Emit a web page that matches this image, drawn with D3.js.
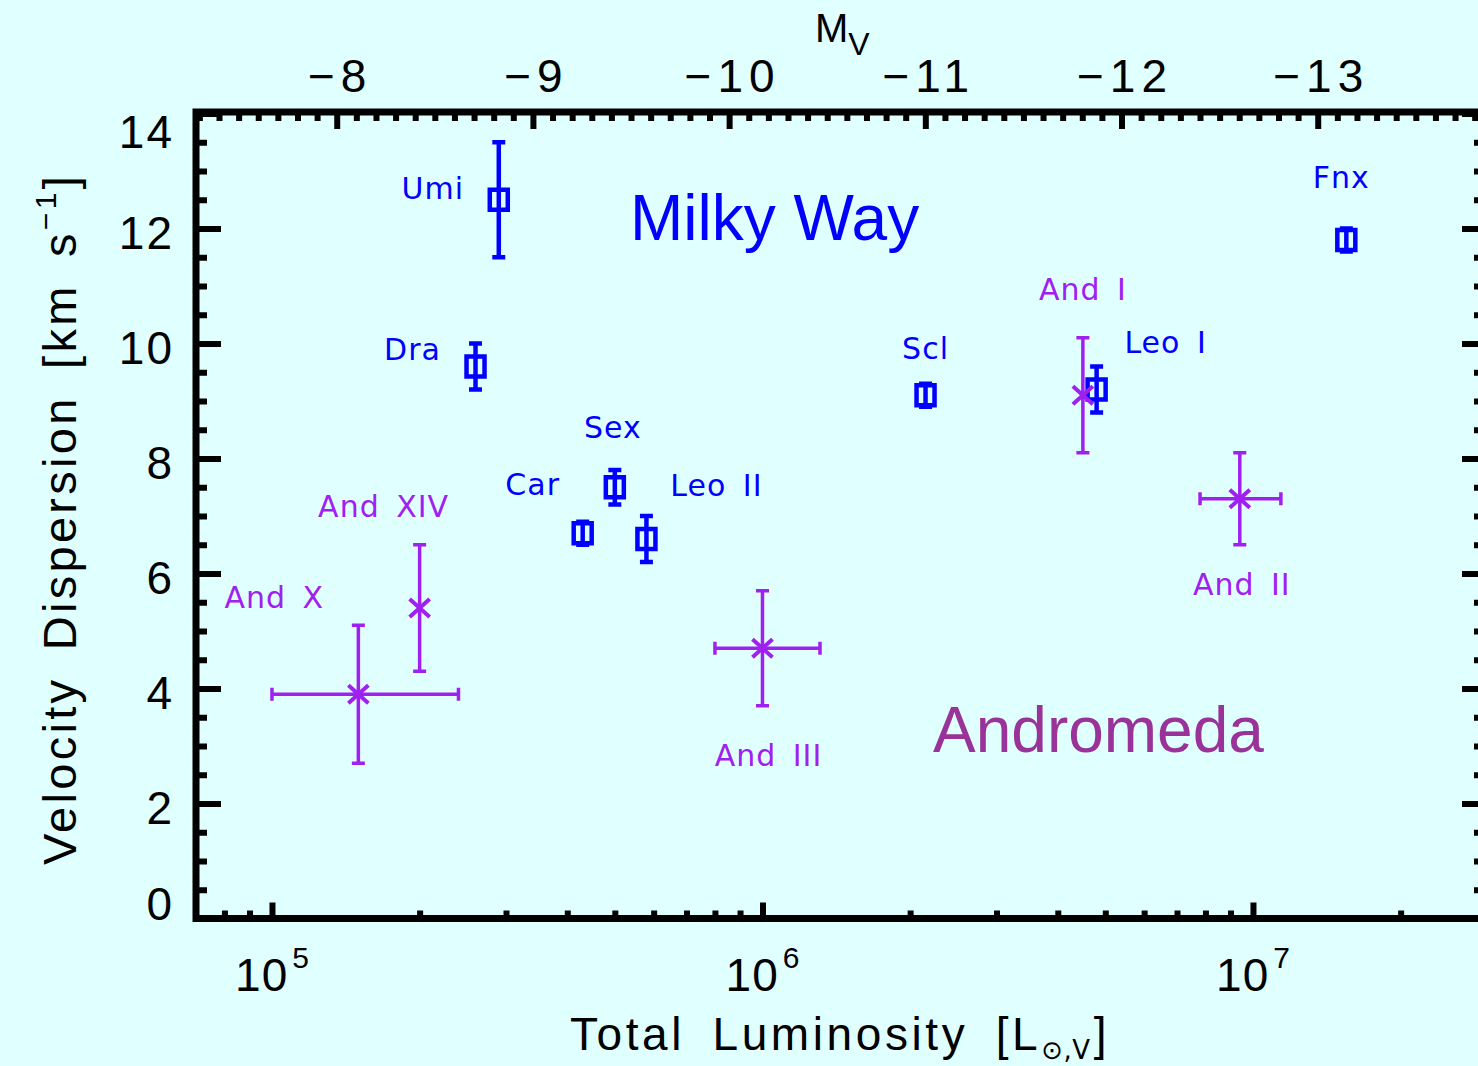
<!DOCTYPE html>
<html>
<head>
<meta charset="utf-8">
<script src="https://cdn.jsdelivr.net/npm/d3@7"></script>
<style>
  html, body { margin: 0; padding: 0; background: #e0ffff; }
  svg { display: block; }
</style>
</head>
<body>
<svg id="chart" width="1478" height="1066"></svg>
<script>
// Milky Way dwarf spheroidals
const mwNames = ["Umi", "Dra", "Car", "Sex", "Leo II", "Scl", "Leo I", "Fnx"];
const mwLum = [2.9e5, 2.6e5, 4.3e5, 5.0e5, 5.8e5, 2.15e6, 4.8e6, 1.55e7];
const mwSigma = [12.5, 9.6, 6.7, 7.5, 6.6, 9.1, 9.2, 11.8];
const mwSigmaErr = [1.0, 0.4, 0.2, 0.3, 0.4, 0.2, 0.4, 0.2];

// Andromeda dwarf spheroidals
const m31Names = ["And X", "And XIV", "And III", "And I", "And II"];
const m31Lum = [1.5e5, 2.0e5, 1.0e6, 4.5e6, 9.4e6];
const m31LumLo = [1.0e5, null, 8.0e5, null, 7.8e6];
const m31LumHi = [2.4e5, null, 1.31e6, null, 1.14e7];
const m31Sigma = [3.9, 5.4, 4.7, 9.1, 7.3];
const m31SigmaErr = [1.2, 1.1, 1.0, 1.0, 0.8];

// Axis ticks
const lumMajorTicks = [1e5, 1e6, 1e7];
const lumTickExponents = ["5", "6", "7"];
const magMajorTicks = [-8, -9, -10, -11, -12, -13];
const sigmaMajorTicks = [0, 2, 4, 6, 8, 10, 12, 14];

// Solar absolute V magnitude used for the upper axis
const M_SUN_V = 4.83;
const LUM_DOMAIN = [7e4, 3e7];
const SIGMA_DOMAIN = [0, 14];

// Label placement (pixel offsets from each point)
const labelOffsets = {
  "Umi": [-66, -1], "Dra": [-63, -7], "Car": [-50, -38], "Sex": [-2, -49],
  "Leo II": [70, -43], "Scl": [0, -36], "Leo I": [69, -37], "Fnx": [-5, -52],
  "And X": [-84, -86], "And XIV": [-36, -91], "And III": [6, 118],
  "And I": [0, -95], "And II": [2, 96]
};

const BLUE = "#0000ff";
const PURPLE = "#a020f0";
const INK = "#000000";
const AXIS_FONT = "'Liberation Sans', Arial, Helvetica, sans-serif";
const LABEL_FONT = "'DejaVu Sans', sans-serif";

const plotLeft = 196, plotRight = 1487, plotTop = 112, plotBottom = 918.5;

const svg = d3.select("#chart");
svg.append("rect").attr("width", 1478).attr("height", 1066).attr("fill", "#e0ffff");

const x = d3.scaleLog().domain(LUM_DOMAIN).range([plotLeft, plotRight]);
const y = d3.scaleLinear().domain(SIGMA_DOMAIN).range([plotBottom, 113.5]);
const toMag = L => M_SUN_V - 2.5 * Math.log10(L);
const mag = d3.scaleLinear().domain(LUM_DOMAIN.map(toMag)).range([plotLeft, plotRight]);

// minor tick positions
const lumMinor = [];
for (let e = 4; e <= 7; e++) for (let m = 2; m <= 9; m++) {
  const v = m * Math.pow(10, e);
  if (v > LUM_DOMAIN[0] && v < LUM_DOMAIN[1]) lumMinor.push(v);
}
const magDom = mag.domain();
const magMinor = d3.range(Math.ceil(magDom[1] * 10), Math.floor(magDom[0] * 10) + 1)
  .map(v => v / 10).filter(v => Math.abs(v - Math.round(v)) > 1e-6);
const sigmaMinor = d3.range(1, 28).map(v => v / 2).filter(v => v % 2 !== 0);

function styleTicks(g, width) {
  g.select(".domain").remove();
  g.selectAll(".tick line").attr("stroke", INK).attr("stroke-width", width);
}

// left axis
svg.append("g").attr("transform", `translate(${plotLeft},0)`)
  .call(d3.axisLeft(y).tickValues(sigmaMinor).tickSize(-11).tickFormat(""))
  .call(g => styleTicks(g, 6));
const yAxisG = svg.append("g").attr("transform", `translate(${plotLeft},0)`)
  .call(d3.axisLeft(y).tickValues(sigmaMajorTicks).tickSize(-25).tickPadding(22).tickFormat(d3.format("d")))
  .call(g => styleTicks(g, 6));
yAxisG.selectAll(".tick text")
  .attr("fill", INK).attr("font-family", AXIS_FONT).attr("font-size", 46)
  .attr("letter-spacing", 2)
  .attr("dy", d => d === 0 ? "0.03em" : (d === 14 ? "0.73em" : "0.445em"));

// right axis
svg.append("g").attr("transform", `translate(${plotRight},0)`)
  .call(d3.axisRight(y).tickValues(sigmaMinor).tickSize(-13).tickFormat(""))
  .call(g => styleTicks(g, 6));
svg.append("g").attr("transform", `translate(${plotRight},0)`)
  .call(d3.axisRight(y).tickValues(sigmaMajorTicks).tickSize(-25).tickFormat(""))
  .call(g => styleTicks(g, 6));

// bottom axis (luminosity)
svg.append("g").attr("transform", `translate(0,${plotBottom})`)
  .call(d3.axisBottom(x).tickValues(lumMinor).tickSize(-8).tickFormat(""))
  .call(g => styleTicks(g, 6));
const xAxisG = svg.append("g").attr("transform", `translate(0,${plotBottom})`)
  .call(d3.axisBottom(x).tickValues(lumMajorTicks).tickSize(-16).tickFormat(""))
  .call(g => styleTicks(g, 6));
xAxisG.selectAll(".tick text").remove();
xAxisG.selectAll(".tick").each(function(d, i) {
  const t = d3.select(this).append("text")
    .attr("y", 72).attr("text-anchor", "middle")
    .attr("fill", INK).attr("font-family", AXIS_FONT).attr("font-size", 46)
    .attr("letter-spacing", 1);
  t.append("tspan").text("10");
  t.append("tspan").attr("font-size", 30).attr("dy", -23).attr("dx", 4).text(lumTickExponents[i]);
});

// top axis (absolute magnitude)
svg.append("g").attr("transform", `translate(0,${plotTop})`)
  .call(d3.axisTop(mag).tickValues(magMinor).tickSize(-9).tickFormat(""))
  .call(g => styleTicks(g, 6));
const magAxisG = svg.append("g").attr("transform", `translate(0,${plotTop})`)
  .call(d3.axisTop(mag).tickValues(magMajorTicks).tickSize(-17).tickPadding(20)
    .tickFormat(d => "\u2212" + Math.abs(d)))
  .call(g => styleTicks(g, 6));
magAxisG.selectAll(".tick text")
  .attr("fill", INK).attr("font-family", AXIS_FONT).attr("font-size", 46)
  .attr("letter-spacing", 6).attr("dx", 3);

// frame
svg.append("rect")
  .attr("x", plotLeft).attr("y", plotTop)
  .attr("width", plotRight - plotLeft).attr("height", plotBottom - plotTop)
  .attr("fill", "none").attr("stroke", INK).attr("stroke-width", 7);

// axis titles
const mvTitle = svg.append("text").attr("x", 815).attr("y", 42)
  .attr("font-family", AXIS_FONT).attr("font-size", 40).attr("fill", INK);
mvTitle.append("tspan").text("M");
mvTitle.append("tspan").attr("font-size", 32).attr("dy", 13).text("V");

const xTitle = svg.append("text").attr("x", 840).attr("y", 1050)
  .attr("text-anchor", "middle").attr("font-family", AXIS_FONT).attr("font-size", 46)
  .attr("letter-spacing", 3.6).attr("word-spacing", 11).attr("fill", INK);
xTitle.append("tspan").text("Total Luminosity [L");
xTitle.append("tspan").attr("font-size", 26).attr("dy", 9).attr("letter-spacing", 0.5)
  .attr("font-family", "'DejaVu Sans', sans-serif").text("\u2299,V");
xTitle.append("tspan").attr("dy", -9).attr("dx", 3).text("]");

const yTitle = svg.append("text")
  .attr("transform", "translate(76,519) rotate(-90)")
  .attr("text-anchor", "middle").attr("font-family", AXIS_FONT).attr("font-size", 47)
  .attr("letter-spacing", 3.3).attr("word-spacing", 10).attr("fill", INK);
yTitle.append("tspan").text("Velocity Dispersion [km s");
yTitle.append("tspan").attr("font-size", 30).attr("dy", -20).text("\u22121");
yTitle.append("tspan").attr("dy", 20).text("]");

// group names
svg.append("text").attr("x", 630).attr("y", 240)
  .attr("font-family", AXIS_FONT).attr("font-size", 64).attr("fill", BLUE).text("Milky Way");
svg.append("text").attr("x", 933).attr("y", 752)
  .attr("font-family", AXIS_FONT).attr("font-size", 64).attr("fill", "#993399").text("Andromeda");

// Milky Way points: squares with vertical error bars
const mwData = mwNames.map((n, i) => ({ name: n, L: mwLum[i], s: mwSigma[i], e: mwSigmaErr[i] }));
const mwG = svg.append("g").attr("stroke", BLUE).attr("fill", "none").attr("stroke-width", 4.5);
mwData.forEach(d => {
  const cx = x(d.L), cy = y(d.s), y0 = y(d.s - d.e), y1 = y(d.s + d.e);
  mwG.append("line").attr("x1", cx).attr("x2", cx).attr("y1", y0).attr("y2", y1);
  mwG.append("line").attr("x1", cx - 6.5).attr("x2", cx + 6.5).attr("y1", y0).attr("y2", y0);
  mwG.append("line").attr("x1", cx - 6.5).attr("x2", cx + 6.5).attr("y1", y1).attr("y2", y1);
  mwG.append("rect").attr("x", cx - 9).attr("y", cy - 10).attr("width", 18).attr("height", 20);
});

// Andromeda points: crosses with error bars
const m31Data = m31Names.map((n, i) => ({
  name: n, L: m31Lum[i], lo: m31LumLo[i], hi: m31LumHi[i], s: m31Sigma[i], e: m31SigmaErr[i]
}));
const m31G = svg.append("g").attr("stroke", PURPLE).attr("fill", "none").attr("stroke-width", 3.5);
m31Data.forEach(d => {
  const cx = x(d.L), cy = y(d.s), y0 = y(d.s - d.e), y1 = y(d.s + d.e);
  m31G.append("line").attr("x1", cx).attr("x2", cx).attr("y1", y0).attr("y2", y1);
  m31G.append("line").attr("x1", cx - 6.5).attr("x2", cx + 6.5).attr("y1", y0).attr("y2", y0);
  m31G.append("line").attr("x1", cx - 6.5).attr("x2", cx + 6.5).attr("y1", y1).attr("y2", y1);
  if (d.lo !== null) {
    const x0 = x(d.lo), x1 = x(d.hi);
    m31G.append("line").attr("x1", x0).attr("x2", x1).attr("y1", cy).attr("y2", cy);
    m31G.append("line").attr("x1", x0).attr("x2", x0).attr("y1", cy - 6.5).attr("y2", cy + 6.5);
    m31G.append("line").attr("x1", x1).attr("x2", x1).attr("y1", cy - 6.5).attr("y2", cy + 6.5);
  }
  m31G.append("line").attr("stroke-width", 4).attr("x1", cx - 10).attr("x2", cx + 10).attr("y1", cy - 9).attr("y2", cy + 9);
  m31G.append("line").attr("stroke-width", 4).attr("x1", cx - 10).attr("x2", cx + 10).attr("y1", cy + 9).attr("y2", cy - 9);
});

// point names
function addLabels(data, color) {
  svg.append("g").selectAll("text").data(data).join("text")
    .attr("x", d => x(d.L) + labelOffsets[d.name][0])
    .attr("y", d => y(d.s) + labelOffsets[d.name][1])
    .attr("text-anchor", "middle")
    .attr("font-family", LABEL_FONT).attr("font-size", 30)
    .attr("letter-spacing", 1).attr("word-spacing", 6)
    .attr("fill", color)
    .text(d => d.name);
}
addLabels(mwData, BLUE);
addLabels(m31Data, PURPLE);
</script>
</body>
</html>
